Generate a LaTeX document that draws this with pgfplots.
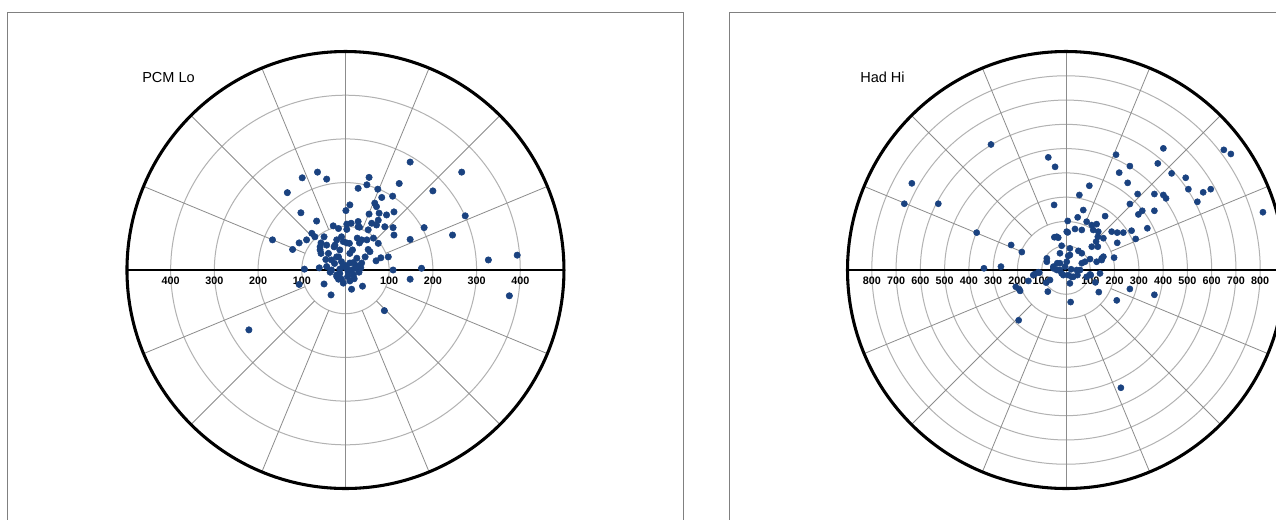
\documentclass[border=0pt]{standalone}
\usepackage{fontspec}
\setmainfont{Liberation Sans}
\usepackage{pgfplots}
\pgfplotsset{compat=1.18}
\definecolor{ptc}{RGB}{26,66,128}
\definecolor{ringc}{RGB}{178,178,178}
\definecolor{spokec}{RGB}{140,140,140}
\definecolor{framec}{RGB}{128,128,128}
\newcommand{\tl}{\bfseries\fontsize{8.1}{9}\selectfont}
\begin{document}
\begin{tikzpicture}
\useasboundingbox (0,0) rectangle (957pt,-389.25pt);
\clip (0,0) rectangle (957pt,-389.25pt);
\fill[white] (0,0) rectangle (957pt,-389.25pt);
\draw[framec, line width=0.75pt] (5.25pt,-9pt) rectangle (512.25pt,-400pt);
\draw[framec, line width=0.75pt] (546.75pt,-9pt) rectangle (975pt,-400pt);
\node[anchor=west, inner sep=0pt, font=\fontsize{10.9}{12}\selectfont] at (106.5pt,-58.1pt) {PCM Lo};
\node[anchor=west, inner sep=0pt, font=\fontsize{10.9}{12}\selectfont] at (645pt,-58.1pt) {Had Hi};

% ---------------- left panel ----------------
\begin{axis}[at={(259.1pt,-202.5pt)}, anchor=center, scale only axis,
  width=327.75pt, height=327.75pt, xmin=-500, xmax=500, ymin=-500, ymax=500,
  hide axis, clip=false]
\pgfplotsinvokeforeach{100,200,300,400}{
  \draw[ringc, line width=0.75pt] (axis cs:0,0) circle [radius=#1];
}
\pgfplotsinvokeforeach{22.5,45,67.5,112.5,135,157.5,202.5,225,247.5,292.5,315,337.5}{
  \draw[spokec, line width=0.6pt] (axis cs:{100*cos(#1)},{100*sin(#1)}) -- (axis cs:{500*cos(#1)},{500*sin(#1)});
}
\draw[spokec, line width=0.6pt] (axis cs:0,-500) -- (axis cs:0,500);
\draw[black, line width=0.9pt] (axis cs:-500,0) -- (axis cs:500,0);
\draw[black, line width=2.3pt] (axis cs:0,0) circle [radius=500];
\pgfplotsinvokeforeach{100,200,300,400}{
  \node[font=\tl, yshift=-8.4pt] at (axis cs:#1,0) {#1};
  \node[font=\tl, yshift=-8.4pt] at (axis cs:-#1,0) {#1};
}
\addplot[only marks, mark=*, mark size=2.4pt, color=ptc] coordinates {
(148,247) (266,224) (-64,224) (-99,211) (-43,208) (54,212) (49,195) (29,187) (123,198) (74,185)
(-133,177) (200,181) (83,166) (108,169) (67,153) (10,149) (71,145) (-102,131) (1,136) (94,126)
(111,133) (274,124) (77,130) (54,128) (-66,112) (60,107) (75,114) (29,111) (13,107) (71,103)
(90,99) (109,97) (180,97) (-28,101) (3,105) (-16,95) (3,93) (32,98) (52,92) (-77,84)
(111,80) (245,80) (-70,76) (-49,76) (-167,69) (148,70) (-89,69) (-106,62) (-56,62) (-20,69)
(-5,65) (9,61) (27,73) (37,69) (49,69) (64,73) (75,61) (32,62) (-43,57) (-26,53)
(-58,53) (-121,47) (52,47) (-13,46) (16,46) (-56,38) (-39,38) (-16,30) (10,38) (45,30)
(26,27) (393,34) (327,23) (-45,24) (-32,23) (-9,19) (70,21) (81,28) (18,17) (174,4)
(109,0) (-94,2) (-60,5) (-43,8) (-13,2) (3,4) (14,0) (148,-21) (375,-59) (-106,-33)
(-49,-32) (-33,-57) (14,-44) (39,-37) (89,-93) (-221,-137) (18,-11) (-16,-21) (-9,-21) (31,-5)
(-13,-8) (-58,46) (-24,57) (-20,30) (-9,76) (3,62) (10,16) (-6,8) (6,-4) (22,4)
(37,16) (56,42) (29,99) (98,30) (-32,0) (-20,-11) (0,10) (5,-15) (-25,15) (25,10)
(-5,-30) (10,-25) (20,-20) (-20,-15) (35,5) (-35,-5)
};
\end{axis}

% ---------------- right panel ----------------
\begin{axis}[at={(799.5pt,-202.5pt)}, anchor=center, scale only axis,
  width=327.75pt, height=327.75pt, xmin=-900, xmax=900, ymin=-900, ymax=900,
  hide axis, clip=false]
\pgfplotsinvokeforeach{100,200,300,400,500,600,700,800}{
  \draw[ringc, line width=0.75pt] (axis cs:0,0) circle [radius=#1];
}
\pgfplotsinvokeforeach{22.5,45,67.5,112.5,135,157.5,202.5,225,247.5,292.5,315,337.5}{
  \draw[spokec, line width=0.6pt] (axis cs:{200*cos(#1)},{200*sin(#1)}) -- (axis cs:{900*cos(#1)},{900*sin(#1)});
}
\draw[spokec, line width=0.6pt] (axis cs:0,-900) -- (axis cs:0,900);
\draw[black, line width=0.9pt] (axis cs:-900,0) -- (axis cs:900,0);
\draw[black, line width=2.3pt] (axis cs:0,0) circle [radius=900];
\pgfplotsinvokeforeach{100,200,300,400,500,600,700,800}{
  \node[font=\tl, yshift=-8.4pt] at (axis cs:#1,0) {#1};
  \node[font=\tl, yshift=-8.4pt] at (axis cs:-#1,0) {#1};
}
\addplot[only marks, mark=*, mark size=2.3pt, color=ptc] coordinates {
(-309,517) (-635,357) (-666,273) (-526,273) (-73,464) (-45,425) (-49,268) (96,347) (55,309) (206,475)
(263,428) (401,501) (378,439) (435,398) (219,401) (254,359) (493,380) (504,333) (596,333) (565,320)
(541,281) (650,495) (679,478) (811,238) (295,313) (364,313) (401,309) (412,295) (263,272) (364,244)
(314,244) (298,229) (335,172) (287,128) (270,162) (236,154) (211,154) (188,158) (211,112) (161,222)
(71,247) (48,217) (7,202) (85,199) (106,185) (126,189) (112,165) (65,165) (37,169) (7,155)
(133,158) (154,131) (131,137) (124,117) (106,96) (131,96) (198,51) (147,48) (154,55) (99,45)
(65,69) (51,79) (16,89) (9,58) (-25,69) (-38,137) (-32,133) (-48,135) (-18,100) (-79,48)
(-79,34) (-368,154) (-226,103) (-182,74) (-268,14) (-338,7) (58,0) (-36,28) (3,34) (-52,7)
(-25,0) (21,3) (99,-18) (-114,-9) (-135,-21) (-155,-45) (-207,-69) (-189,-86) (-193,-79) (-82,-52)
(-75,-89) (-195,-207) (19,-132) (47,-21) (102,-21) (121,-51) (135,-91) (209,-125) (263,-78) (364,-102)
(226,-485) (-52,14) (-32,0) (-11,-21) (23,-28) (78,34) (147,41) (3,158) (16,62) (-25,28)
(-4,14) (-38,0) (-18,-14) (9,-21) (44,0) (65,28) (30,-28) (-66,-41) (85,-28) (126,34)
(140,-14) (16,-55) (-128,-16) (-110,-11)
};
\end{axis}
\end{tikzpicture}
\end{document}
